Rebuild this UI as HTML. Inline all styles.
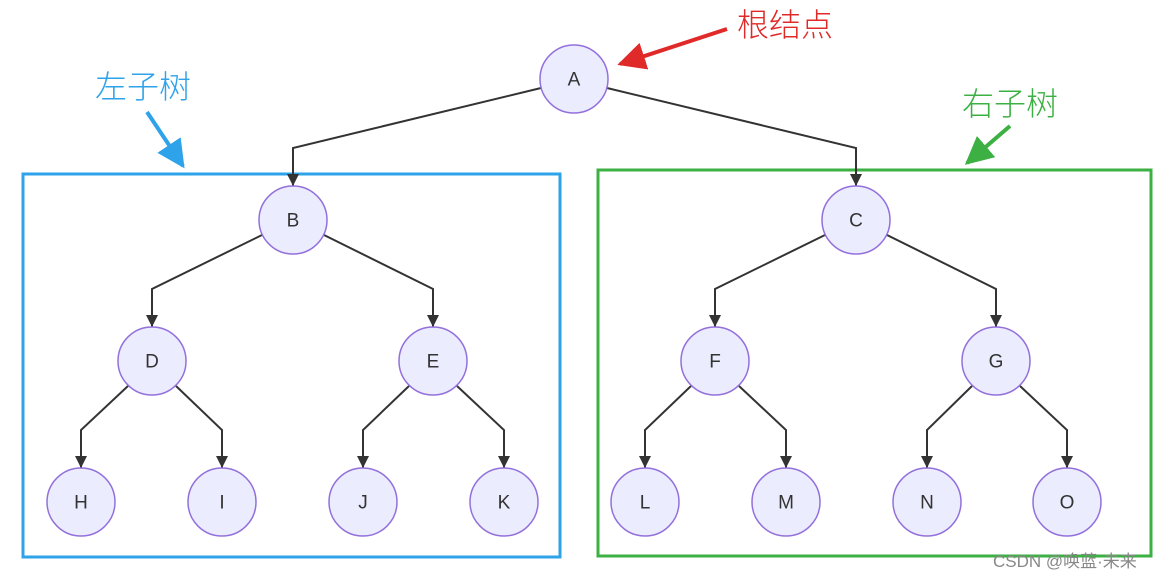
<!DOCTYPE html>
<html><head><meta charset="utf-8"><style>
html,body{margin:0;padding:0;background:#fff;}
svg{display:block}
.n{fill:#ECECFF;stroke:#9370DB;stroke-width:1.5}
.t{font-family:"Liberation Sans",sans-serif;font-size:19px;fill:#333;text-anchor:middle;dominant-baseline:central}
.e{fill:none;stroke:#333;stroke-width:2}
.c{font-family:"Liberation Sans","Noto Sans CJK SC",sans-serif;font-size:32px;font-weight:300}
</style></head><body>
<svg width="1171" height="579" viewBox="0 0 1171 579">
<defs>
<marker id="ar" viewBox="0 0 10 10" refX="10" refY="5" markerWidth="12" markerHeight="12" markerUnits="userSpaceOnUse" orient="auto"><path d="M0,0L10,5L0,10z" fill="#333"/></marker>
<marker id="red" viewBox="0 0 10 10" refX="9" refY="5" markerWidth="7" markerHeight="7" orient="auto"><path d="M0,0L10,5L0,10z" fill="#e02a2a"/></marker>
<marker id="blue" viewBox="0 0 10 10" refX="9" refY="5" markerWidth="7" markerHeight="7" orient="auto"><path d="M0,0L10,5L0,10z" fill="#2ea3ea"/></marker>
<marker id="green" viewBox="0 0 10 10" refX="9" refY="5" markerWidth="7" markerHeight="7" orient="auto"><path d="M0,0L10,5L0,10z" fill="#3cb043"/></marker>
</defs>
<rect x="23" y="174" width="537" height="383" fill="none" stroke="#2ea3ea" stroke-width="3"/>
<rect x="598" y="170" width="553" height="386" fill="none" stroke="#3cb043" stroke-width="3"/>
<!-- edges -->
<path class="e" marker-end="url(#ar)" d="M541,88 L293,148 L293,186"/>
<path class="e" marker-end="url(#ar)" d="M607,88 L856,148 L856,186"/>
<path class="e" marker-end="url(#ar)" d="M262,235 L152,289 L152,327"/>
<path class="e" marker-end="url(#ar)" d="M324,235 L433,289 L433,327"/>
<path class="e" marker-end="url(#ar)" d="M825,235 L715,289 L715,327"/>
<path class="e" marker-end="url(#ar)" d="M887,235 L996,289 L996,327"/>
<path class="e" marker-end="url(#ar)" d="M128,386 L81,430 L81,468"/>
<path class="e" marker-end="url(#ar)" d="M176,386 L222,430 L222,468"/>
<path class="e" marker-end="url(#ar)" d="M409,386 L363,430 L363,468"/>
<path class="e" marker-end="url(#ar)" d="M457,386 L504,430 L504,468"/>
<path class="e" marker-end="url(#ar)" d="M691,386 L645,430 L645,468"/>
<path class="e" marker-end="url(#ar)" d="M739,386 L786,430 L786,468"/>
<path class="e" marker-end="url(#ar)" d="M972,386 L927,430 L927,468"/>
<path class="e" marker-end="url(#ar)" d="M1020,386 L1067,430 L1067,468"/>
<!-- nodes -->
<g>
<circle class="n" cx="574" cy="79" r="34"/><text class="t" x="574" y="80">A</text>
<circle class="n" cx="293" cy="220" r="34"/><text class="t" x="293" y="221">B</text>
<circle class="n" cx="856" cy="220" r="34"/><text class="t" x="856" y="221">C</text>
<circle class="n" cx="152" cy="361" r="34"/><text class="t" x="152" y="362">D</text>
<circle class="n" cx="433" cy="361" r="34"/><text class="t" x="433" y="362">E</text>
<circle class="n" cx="715" cy="361" r="34"/><text class="t" x="715" y="362">F</text>
<circle class="n" cx="996" cy="361" r="34"/><text class="t" x="996" y="362">G</text>
<circle class="n" cx="81" cy="502" r="34"/><text class="t" x="81" y="503">H</text>
<circle class="n" cx="222" cy="502" r="34"/><text class="t" x="222" y="503">I</text>
<circle class="n" cx="363" cy="502" r="34"/><text class="t" x="363" y="503">J</text>
<circle class="n" cx="504" cy="502" r="34"/><text class="t" x="504" y="503">K</text>
<circle class="n" cx="645" cy="502" r="34"/><text class="t" x="645" y="503">L</text>
<circle class="n" cx="786" cy="502" r="34"/><text class="t" x="786" y="503">M</text>
<circle class="n" cx="927" cy="502" r="34"/><text class="t" x="927" y="503">N</text>
<circle class="n" cx="1067" cy="502" r="34"/><text class="t" x="1067" y="503">O</text>
</g>
<!-- annotations -->
<text class="c" x="737" y="36" fill="#e02a2a">根结点</text>
<line x1="727" y1="29" x2="620" y2="64" stroke="#e02a2a" stroke-width="4" marker-end="url(#red)"/>
<text class="c" x="95" y="98" fill="#2ea3ea">左子树</text>
<line x1="147" y1="112" x2="183" y2="166" stroke="#2ea3ea" stroke-width="4" marker-end="url(#blue)"/>
<text class="c" x="962" y="115" fill="#3cb043">右子树</text>
<line x1="1010" y1="126" x2="967" y2="163" stroke="#3cb043" stroke-width="4" marker-end="url(#green)"/>
<text x="993" y="567" font-family="Liberation Sans,'Noto Sans CJK SC',sans-serif" font-size="17" fill="#888">CSDN @唤蓝·未来</text>
</svg>
</body></html>
